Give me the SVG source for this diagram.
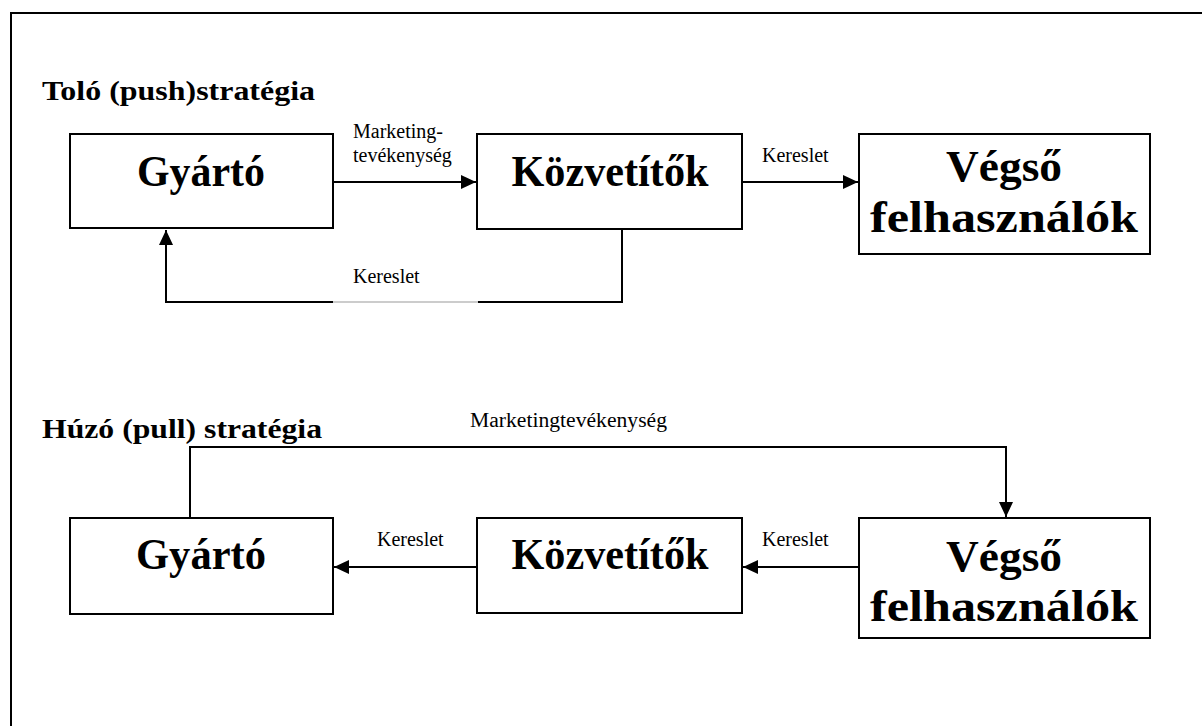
<svg xmlns="http://www.w3.org/2000/svg" width="1202" height="726" viewBox="0 0 1202 726">
<style>
.box{fill:#fff;stroke:#000;stroke-width:2}
.ln{fill:none;stroke:#000;stroke-width:2}
.title{font-family:"Liberation Serif",serif;font-weight:bold;font-size:28px;fill:#000}
.big{font-family:"Liberation Serif",serif;font-weight:bold;font-size:44px;fill:#000;text-anchor:middle}
.lbl{font-family:"Liberation Serif",serif;font-size:20px;fill:#000}
</style>
<defs>
<marker id="ah" markerUnits="userSpaceOnUse" markerWidth="16" markerHeight="14" refX="15" refY="7" orient="auto">
<path d="M0,0 L15,7 L0,14 Z" fill="#000"/>
</marker>
</defs>
<rect width="1202" height="726" fill="#fff"/>
<path class="ln" d="M11,726 V13 H1202"/>
<text class="title" x="42" y="100" textLength="273" lengthAdjust="spacingAndGlyphs">Toló (push)stratégia</text>
<text class="title" x="42" y="438" textLength="280" lengthAdjust="spacingAndGlyphs">Húzó (pull) stratégia</text>
<g id="connectors">
<path class="ln" d="M333,182 H476" marker-end="url(#ah)"/>
<path class="ln" d="M742,182 H858" marker-end="url(#ah)"/>
<path class="ln" d="M622,229 V302 H478"/>
<path d="M478,302 H333" stroke="#999" stroke-width="1" fill="none"/>
<path class="ln" d="M333,302 H166 V230" marker-end="url(#ah)"/>
<path class="ln" d="M477,567 H334" marker-end="url(#ah)"/>
<path class="ln" d="M859,567 H743" marker-end="url(#ah)"/>
<path class="ln" d="M190,518 V447 H1006 V517" marker-end="url(#ah)"/>
<text class="lbl" x="353" y="138">Marketing-</text>
<text class="lbl" x="353" y="162">tevékenység</text>
<text class="lbl" x="762" y="162">Kereslet</text>
<text class="lbl" x="353" y="283">Kereslet</text>
<text class="lbl" x="470" y="427" textLength="197" lengthAdjust="spacingAndGlyphs">Marketingtevékenység</text>
<text class="lbl" x="377" y="546">Kereslet</text>
<text class="lbl" x="762" y="546">Kereslet</text>
</g>
<g id="push-gyarto"><rect class="box" x="70" y="134" width="263" height="94"/><text class="big" x="201" y="186" textLength="128" lengthAdjust="spacingAndGlyphs">Gyártó</text></g>
<g id="push-kozvetitok"><rect class="box" x="477" y="134" width="265" height="95"/><text class="big" x="610" y="186" textLength="197" lengthAdjust="spacingAndGlyphs">Közvetítők</text></g>
<g id="push-vegso"><rect class="box" x="859" y="134" width="291" height="120"/><text class="big" x="1004" y="181" textLength="116" lengthAdjust="spacingAndGlyphs">Végső</text><text class="big" x="1004" y="232" textLength="268" lengthAdjust="spacingAndGlyphs">felhasználók</text></g>
<g id="pull-gyarto"><rect class="box" x="70" y="518" width="263" height="96"/><text class="big" x="201" y="569" textLength="130" lengthAdjust="spacingAndGlyphs">Gyártó</text></g>
<g id="pull-kozvetitok"><rect class="box" x="477" y="518" width="265" height="95"/><text class="big" x="610" y="569" textLength="197" lengthAdjust="spacingAndGlyphs">Közvetítők</text></g>
<g id="pull-vegso"><rect class="box" x="859" y="518" width="291" height="120"/><text class="big" x="1004" y="571" textLength="116" lengthAdjust="spacingAndGlyphs">Végső</text><text class="big" x="1004" y="621" textLength="268" lengthAdjust="spacingAndGlyphs">felhasználók</text></g>
</svg>
